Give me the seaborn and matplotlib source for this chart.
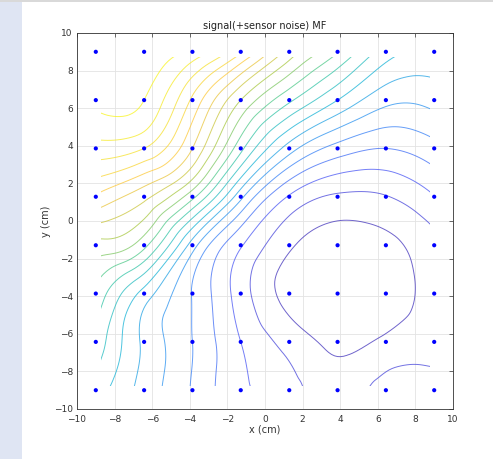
import numpy as np
import matplotlib
matplotlib.use("Agg")
import matplotlib.pyplot as plt
import matplotlib.tri as mtri
from matplotlib.colors import LinearSegmentedColormap, Normalize
from matplotlib.patches import Rectangle
import pandas as pd
import seaborn as sns

# ---- data ----
sensor_x = [-9.0, -6.43, -3.86, -1.29, 1.29, 3.86, 6.43, 9.0]
sensor_y = [9.0, 6.43, 3.86, 1.29, -1.29, -3.86, -6.43, -9.0]   # rows, top to bottom
field_y9 = [20.8, 20.6, 19.7, 17.2, 13.6, 11.1, 8.5, 7.8]
field_y6 = [20.25, 20.0, 16.8, 13.0, 10.2, 8.0, 6.3, 6.35]
field_y4 = [18.6, 18.0, 15.0, 10.3, 6.5, 4.6, 4.0, 4.65]
field_y1 = [15.85, 14.3, 11.3, 6.3, 2.9, 1.85, 1.95, 2.95]
field_ym1 = [12.6, 11.3, 6.5, 3.1, 1.15, 0.5, 0.7, 1.7]
field_ym4 = [10.75, 7.6, 4.95, 2.5, 0.65, 0.3, 0.4, 1.6]
field_ym6 = [9.6, 6.8, 5.0, 3.0, 1.6, 0.8, 1.2, 1.6]
field_ym9 = [8.5, 6.6, 4.9, 3.2, 2.4, 1.4, 2.5, 2.5]
contour_levels = list(range(1, 21))
x_ticks = list(range(-10, 11, 2))
y_ticks = list(range(-10, 11, 2))
title_text = "signal(+sensor noise) MF"
x_label = "x (cm)"
y_label = "y (cm)"

Z = np.array([field_y9, field_y6, field_y4, field_y1,
              field_ym1, field_ym4, field_ym6, field_ym9])
X, Y = np.meshgrid(sensor_x, sensor_y)

parula = LinearSegmentedColormap.from_list("parula", [
    (0.2422, 0.1504, 0.6603), (0.2810, 0.3228, 0.9579), (0.1786, 0.5289, 0.9682),
    (0.0689, 0.6948, 0.8394), (0.2161, 0.7843, 0.5923), (0.6720, 0.7793, 0.2227),
    (0.9970, 0.7659, 0.2199), (0.9598, 0.8870, 0.1622), (0.9769, 0.9839, 0.0805)])

sns.set_style("white")
plt.rcParams["font.family"] = ["DejaVu Sans"]

fig = plt.figure(figsize=(4.93, 4.59), dpi=100)
fig.patches.append(Rectangle((0, 0), 22 / 493, 1, transform=fig.transFigure,
                             facecolor="#dfe5f3", edgecolor="none", zorder=0))
fig.patches.append(Rectangle((0, 1 - 2 / 459), 1, 2 / 459, transform=fig.transFigure,
                             facecolor="#d9d9d9", edgecolor="none", zorder=0))
ax = fig.add_axes([77 / 493, 50 / 459, 376 / 493, 376 / 459])

triang = mtri.Triangulation(X.ravel(), Y.ravel())
refiner = mtri.UniformTriRefiner(triang)
tri_ref, z_ref = refiner.refine_field(Z.ravel(), subdiv=4)
cs = ax.tricontour(tri_ref, z_ref, levels=contour_levels, cmap=parula,
                   norm=Normalize(vmin=Z.min(), vmax=Z.max()), linewidths=0.7, alpha=0.75)
clip = Rectangle((-8.75, -8.75), 17.5, 17.5, transform=ax.transData)
cs.set_clip_path(clip)

df = pd.DataFrame({"x": X.ravel(), "y": Y.ravel()})
sns.scatterplot(data=df, x="x", y="y", color="#0000ff", s=9, edgecolor="none",
                ax=ax, zorder=3, legend=False)

ax.set_xlim(-10, 10)
ax.set_ylim(-10, 10)
ax.set_xticks(x_ticks)
ax.set_yticks(y_ticks)
ax.grid(True, color="#e3e3e3", linewidth=0.6)
ax.set_axisbelow(True)
ax.tick_params(direction="in", top=True, right=True, length=3, width=0.5,
               labelsize=6.5, labelcolor="#333333", color="#333333")
ax.tick_params(axis="x", pad=4)
ax.tick_params(axis="y", pad=3)
for sp in ax.spines.values():
    sp.set_color("#333333")
    sp.set_linewidth(0.6)
ax.set_title(title_text, fontsize=7, color="#222222", pad=3)
ax.set_xlabel(x_label, fontsize=7, color="#333333", labelpad=1)
ax.set_ylabel(y_label, fontsize=7, color="#333333", labelpad=2)

fig.savefig("out.png", dpi=100)
